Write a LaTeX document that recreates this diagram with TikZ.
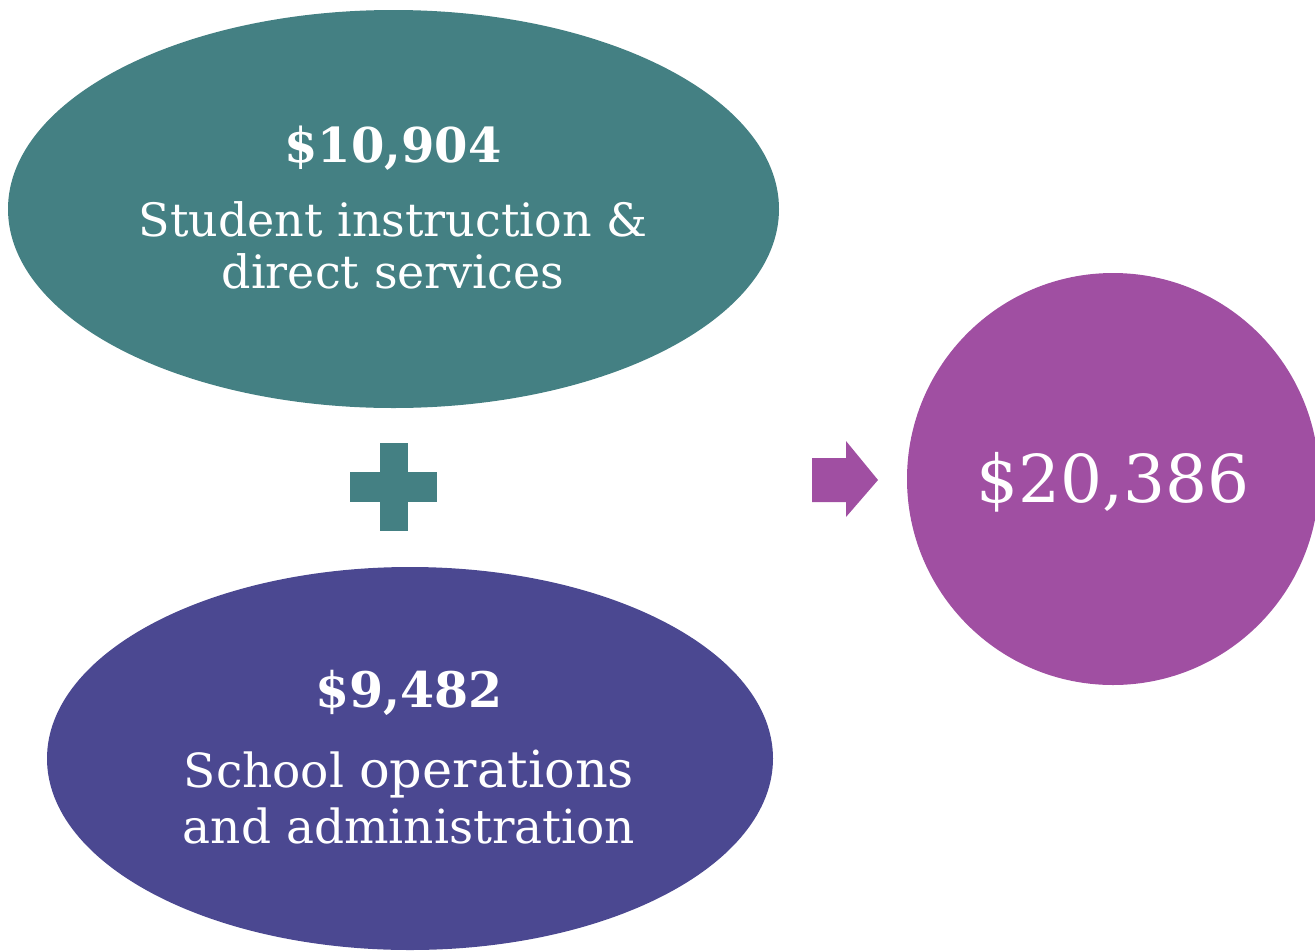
\documentclass[tikz,border=0pt]{standalone}
\usepackage{fontspec}
\setmainfont{DejaVu Serif}
\usetikzlibrary{shapes.geometric}
\definecolor{tealc}{RGB}{68,128,131}
\definecolor{indigoc}{RGB}{75,72,145}
\definecolor{magc}{RGB}{160,79,162}
\tikzset{
  blob/.style={ellipse, inner sep=0pt, draw=none},
  lbl/.style={text=white, anchor=base, inner sep=0pt},
  num/.style={lbl, font=\fontsize{48}{54}\selectfont\bfseries},
  txt/.style={lbl, font=\fontsize{46}{52}\selectfont},
}
\begin{document}
\begin{tikzpicture}[x=1pt,y=-1pt]
\useasboundingbox (0,0) rectangle (1315,951);
\clip (0,0) rectangle (1315,951);
% shapes
\node[blob, fill=tealc, minimum width=771pt, minimum height=398pt] (e1) at (393.5,209) {};
\node[blob, fill=indigoc, minimum width=726pt, minimum height=383pt] (e2) at (410,758.5) {};
\node[circle, fill=magc, inner sep=0pt, minimum size=412pt] (c) at (1113,479) {};
% plus sign
\fill[tealc] (380,443) rectangle (408,531);
\fill[tealc] (350,472) rectangle (437,502);
% arrow
\fill[magc] (812,458) -- (846,458) -- (846,441) -- (878,480) -- (846,517) -- (846,502) -- (812,502) -- cycle;
% texts
\node[num] (n1) at (393,162) {\$10,904};
\node[txt] (t1a) at (393,236) {Student instruction \&};
\node[txt] (t1b) at (393,288) {direct services};
\node[num, font=\fontsize{49}{54}\selectfont\bfseries] (n2) at (409,707) {\$9,482};
\node[txt, font=\fontsize{47}{52}\selectfont] (t2a) at (409,787) {School {\fontsize{51}{56}\selectfont operations}};
\node[txt, font=\fontsize{47}{52}\selectfont] (t2b) at (409,843) {and administration};
\node[lbl, font=\fontsize{66}{72}\selectfont] (n3) at (1113,502) {\$20,386};
\end{tikzpicture}
\end{document}
